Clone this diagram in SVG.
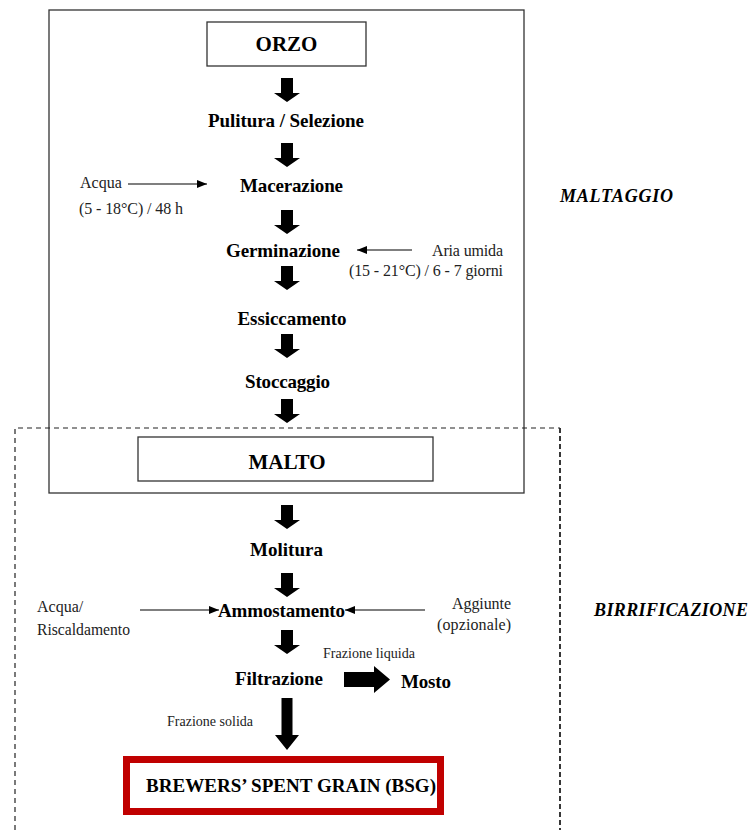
<svg xmlns="http://www.w3.org/2000/svg" width="752" height="830" viewBox="0 0 752 830">
<style>
.b{font-family:"Liberation Serif","Times New Roman",serif;font-weight:bold;fill:#000;text-anchor:middle}
.n{font-family:"Liberation Serif","Times New Roman",serif;fill:#222}
.i{font-family:"Liberation Serif","Times New Roman",serif;font-weight:bold;font-style:italic;fill:#000}
.box{fill:#fff;stroke:#333;stroke-width:1.3}
.thin{stroke:#000;stroke-width:1.2;fill:none}
.blk{fill:#000}
</style>
<defs>
<marker id="ah" markerWidth="10" markerHeight="8" refX="10" refY="4" orient="auto" markerUnits="userSpaceOnUse">
<path d="M0,0 L10,4 L0,8 Z" fill="#000"/>
</marker>
<path id="down" d="M-6,0 H6 V15 H13 L0,24 L-13,15 H-6 Z"/>
</defs>
<rect id="maltaggio-frame" x="49" y="10" width="475" height="483" fill="none" stroke="#333" stroke-width="1.3"/>
<path id="birrificazione-frame" d="M15,830 V428 H560" fill="none" stroke="#222" stroke-width="1.2" stroke-dasharray="5,4"/>
<path id="birrificazione-frame-right" d="M560,428 V830" fill="none" stroke="#222" stroke-width="1.8" stroke-dasharray="5,3"/>
<g id="orzo"><rect class="box" x="207" y="22" width="159" height="44"/><text class="b" x="286.5" y="51" font-size="21">ORZO</text></g>
<g id="pulitura"><text class="b" x="286" y="127" font-size="19" textLength="156">Pulitura / Selezione</text></g>
<g id="macerazione"><text class="b" x="291.5" y="192" font-size="19" textLength="103">Macerazione</text></g>
<g id="acqua1"><text class="n" x="80" y="188" font-size="16">Acqua</text><text class="n" x="79" y="214" font-size="16" textLength="104">(5 - 18°C) / 48 h</text></g>
<g id="germinazione"><text class="b" x="283" y="257" font-size="19" textLength="114">Germinazione</text></g>
<g id="aria"><text class="n" x="432" y="256" font-size="16" textLength="71">Aria umida</text><text class="n" x="349" y="276" font-size="16" textLength="154">(15 - 21°C) / 6 - 7 giorni</text></g>
<g id="essiccamento"><text class="b" x="292" y="325" font-size="19" textLength="109">Essiccamento</text></g>
<g id="stoccaggio"><text class="b" x="287.5" y="388" font-size="19" textLength="85">Stoccaggio</text></g>
<g id="malto"><rect class="box" x="138" y="437" width="295" height="44"/><text class="b" x="287" y="469" font-size="21">MALTO</text></g>
<g id="molitura"><text class="b" x="286.5" y="556" font-size="19" textLength="73">Molitura</text></g>
<g id="ammostamento"><text class="b" x="281.5" y="617" font-size="19" textLength="127">Ammostamento</text></g>
<g id="acqua2"><text class="n" x="37" y="612" font-size="16">Acqua/</text><text class="n" x="37" y="635" font-size="16" textLength="93" lengthAdjust="spacingAndGlyphs">Riscaldamento</text></g>
<g id="aggiunte"><text class="n" x="452" y="609" font-size="16" textLength="59">Aggiunte</text><text class="n" x="437" y="630" font-size="16" textLength="74">(opzionale)</text></g>
<g id="filtrazione"><text class="b" x="279" y="685" font-size="19" textLength="88">Filtrazione</text></g>
<g id="mosto"><text class="b" x="426" y="688" font-size="19" textLength="50">Mosto</text></g>
<g id="fraz-liquida"><text class="n" x="323" y="658" font-size="14.5" textLength="92" lengthAdjust="spacingAndGlyphs">Frazione liquida</text></g>
<g id="fraz-solida"><text class="n" x="167" y="726" font-size="15" textLength="86" lengthAdjust="spacingAndGlyphs">Frazione solida</text></g>
<g id="bsg"><rect x="126.5" y="759.5" width="314" height="52" fill="#fff" stroke="#C00000" stroke-width="7"/><text class="b" x="291" y="792" font-size="19" textLength="290">BREWERS’ SPENT GRAIN (BSG)</text></g>
<g id="label-maltaggio"><text class="i" x="560" y="202" font-size="18" textLength="113">MALTAGGIO</text></g>
<g id="label-birrificazione"><text class="i" x="594" y="616" font-size="18" textLength="154">BIRRIFICAZIONE</text></g>
<g id="connectors">
<use href="#down" class="blk" x="287" y="78"/>
<use href="#down" class="blk" x="287" y="143"/>
<use href="#down" class="blk" x="287" y="210"/>
<use href="#down" class="blk" x="287" y="266"/>
<use href="#down" class="blk" x="287" y="334"/>
<use href="#down" class="blk" x="287" y="399"/>
<use href="#down" class="blk" x="287" y="505"/>
<use href="#down" class="blk" x="287" y="573"/>
<use href="#down" class="blk" x="287" y="630"/>
<path class="blk" d="M281.5,698 H292.5 V735 H299 L287,750 L275,735 H281.5 Z"/>
<path class="blk" d="M344,672 H374 V666 L390,679.5 L374,693 V687 H344 Z"/>
<line class="thin" x1="128" y1="184" x2="207" y2="184" marker-end="url(#ah)"/>
<line class="thin" x1="412" y1="250" x2="357" y2="250" marker-end="url(#ah)"/>
<line class="thin" x1="140" y1="610" x2="219" y2="610" marker-end="url(#ah)"/>
<line class="thin" x1="425" y1="610" x2="345" y2="610" marker-end="url(#ah)"/>
</g>
</svg>
